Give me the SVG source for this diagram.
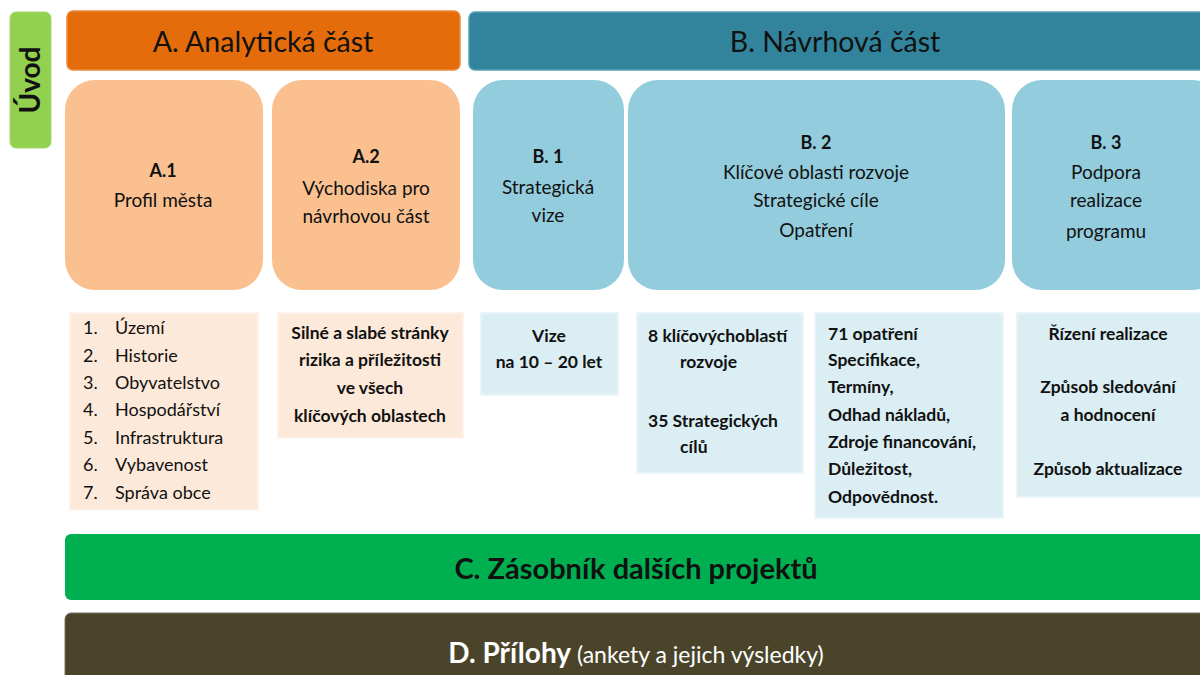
<svg xmlns="http://www.w3.org/2000/svg" width="1200" height="675" viewBox="0 0 1200 675">
<style>
text{font-family:Lato,"Liberation Sans",sans-serif;fill:#111}
.hd{font-size:28.5px;text-anchor:middle}
.t{font-size:19px;text-anchor:middle}
.tb{font-size:18px;text-anchor:middle;font-weight:bold}
.l{font-size:18px}
.lb{font-size:17.5px;font-weight:bold}
.cb{font-size:17.5px;font-weight:bold;text-anchor:middle}
.pe{fill:#fac090}
.bl{fill:#93cddd}
.lp{fill:#fde9d9;stroke:#fef3ec;stroke-width:2}
.lbx{fill:#daeef3;stroke:#e9f5f8;stroke-width:2}
</style>
<rect width="1200" height="675" fill="#ffffff"/>
<g id="uvod">
<rect x="10" y="12" width="41" height="136" rx="6" fill="#92d050" stroke="#a6d86f" stroke-width="1"/>
<text transform="translate(40,80) rotate(-90)" text-anchor="middle" font-size="28" font-weight="bold">Úvod</text>
</g>
<g id="headerA">
<rect x="67" y="11" width="393" height="59" rx="6" fill="#e46c0a" stroke="#ec8a3c" stroke-width="1.5"/>
<text class="hd" x="263" y="52">A. Analytická část</text>
</g>
<g id="headerB">
<rect x="469" y="12" width="745" height="58" rx="6" fill="#31849b" stroke="#5aa0b2" stroke-width="1.5"/>
<text class="hd" x="835" y="52">B. Návrhová část</text>
</g>
<g id="A1">
<rect class="pe" x="65" y="80" width="198" height="210" rx="30"/>
<text class="tb" x="163" y="177">A.1</text>
<text class="t" x="163" y="207">Profil města</text>
</g>
<g id="A2">
<rect class="pe" x="272" y="80" width="188" height="210" rx="30"/>
<text class="tb" x="366" y="163">A.2</text>
<text class="t" x="366" y="195">Východiska pro</text>
<text class="t" x="366" y="223">návrhovou část</text>
</g>
<g id="B1">
<rect class="bl" x="473" y="80" width="151" height="210" rx="30"/>
<text class="tb" x="548" y="163">B. 1</text>
<text class="t" x="548" y="194">Strategická</text>
<text class="t" x="548" y="222">vize</text>
</g>
<g id="B2">
<rect class="bl" x="628" y="80" width="377" height="210" rx="30"/>
<text class="tb" x="816" y="149">B. 2</text>
<text class="t" x="816" y="179">Klíčové oblasti rozvoje</text>
<text class="t" x="816" y="207">Strategické cíle</text>
<text class="t" x="816" y="237">Opatření</text>
</g>
<g id="B3">
<rect class="bl" x="1012" y="80" width="210" height="210" rx="30"/>
<text class="tb" x="1106" y="149">B. 3</text>
<text class="t" x="1106" y="179">Podpora</text>
<text class="t" x="1106" y="207">realizace</text>
<text class="t" x="1106" y="238">programu</text>
</g>
<g id="A1detail">
<rect class="lp" x="70" y="313" width="188" height="197"/>
<text class="l" x="83" y="334">1.</text><text class="l" x="115" y="334">Území</text>
<text class="l" x="83" y="362">2.</text><text class="l" x="115" y="362">Historie</text>
<text class="l" x="83" y="389">3.</text><text class="l" x="115" y="389">Obyvatelstvo</text>
<text class="l" x="83" y="416">4.</text><text class="l" x="115" y="416">Hospodářství</text>
<text class="l" x="83" y="444">5.</text><text class="l" x="115" y="444">Infrastruktura</text>
<text class="l" x="83" y="471">6.</text><text class="l" x="115" y="471">Vybavenost</text>
<text class="l" x="83" y="499">7.</text><text class="l" x="115" y="499">Správa obce</text>
</g>
<g id="A2detail">
<rect class="lp" x="278" y="313" width="185" height="125"/>
<text class="cb" x="370" y="339">Silné a slabé stránky</text>
<text class="cb" x="370" y="366">rizika a příležitosti</text>
<text class="cb" x="370" y="394">ve všech</text>
<text class="cb" x="370" y="422">klíčových oblastech</text>
</g>
<g id="B1detail">
<rect class="lbx" x="481" y="313" width="137" height="82"/>
<text class="cb" x="549" y="342">Vize</text>
<text class="cb" x="549" y="368">na 10 – 20 let</text>
</g>
<g id="B2detailA">
<rect class="lbx" x="637" y="313" width="166" height="160"/>
<text class="lb" x="648" y="342">8 klíčovýchoblastí</text>
<text class="lb" x="680" y="368">rozvoje</text>
<text class="lb" x="648" y="427">35 Strategických</text>
<text class="lb" x="680" y="453">cílů</text>
</g>
<g id="B2detailB">
<rect class="lbx" x="815" y="313" width="188" height="205"/>
<text class="lb" x="828" y="340">71 opatření</text>
<text class="lb" x="828" y="366">Specifikace,</text>
<text class="lb" x="828" y="393">Termíny,</text>
<text class="lb" x="828" y="421">Odhad nákladů,</text>
<text class="lb" x="828" y="448">Zdroje financování,</text>
<text class="lb" x="828" y="475">Důležitost,</text>
<text class="lb" x="828" y="503">Odpovědnost.</text>
</g>
<g id="B3detail">
<rect class="lbx" x="1017" y="313" width="195" height="184"/>
<text class="cb" x="1108" y="340">Řízení realizace</text>
<text class="cb" x="1108" y="393">Způsob sledování</text>
<text class="cb" x="1108" y="421">a hodnocení</text>
<text class="cb" x="1108" y="475">Způsob aktualizace</text>
</g>
<g id="C">
<rect x="65" y="534" width="1150" height="66" rx="6" fill="#00b050"/>
<text x="636" y="579" text-anchor="middle" font-size="29" font-weight="bold">C. Zásobník dalších projektů</text>
</g>
<g id="D">
<rect x="65" y="613" width="1150" height="70" rx="6" fill="#4a452a" stroke="#7a7560" stroke-width="1"/>
<text x="636" y="663" text-anchor="middle" fill="#ffffff" style="fill:#ffffff"><tspan font-size="28" font-weight="bold">D. Přílohy</tspan><tspan font-size="23"> (ankety a jejich výsledky)</tspan></text>
</g>
<g id="connectors"/>
</svg>
